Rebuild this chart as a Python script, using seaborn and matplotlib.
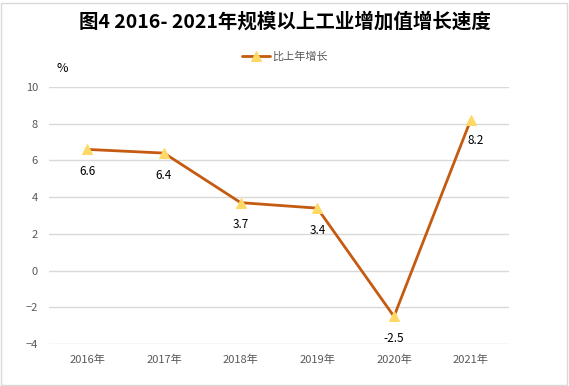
import seaborn as sns
import matplotlib.pyplot as plt
import pandas as pd
from matplotlib.patches import Rectangle

years = ["2016年", "2017年", "2018年", "2019年", "2020年", "2021年"]
growth = [6.6, 6.4, 3.7, 3.4, -2.5, 8.2]
yticks = [-4, -2, 0, 2, 4, 6, 8, 10]

sns.set_style("white")
plt.rcParams["font.family"] = ["Noto Sans CJK SC", "DejaVu Sans"]

line_color = "#C55A11"
marker_color = "#FFD966"
grey = "#595959"

df = pd.DataFrame({"year": years, "growth": growth})

fig = plt.figure(figsize=(5.69, 3.86), dpi=100)
ax = fig.add_axes([49 / 569, 1 - 344 / 386, 460 / 569, 257 / 386])

sns.lineplot(data=df, x="year", y="growth", ax=ax, color=line_color, lw=2,
             marker="^", markersize=7, markerfacecolor=marker_color,
             markeredgecolor=marker_color, label="比上年增长", sort=False)

ax.set_xlim(-0.5, len(years) - 0.5)
ax.set_ylim(-4, 10)
ax.set_yticks(yticks)
ax.grid(axis="y", color="#D9D9D9", lw=1)
ax.set_axisbelow(True)
for s in ax.spines.values():
    s.set_visible(False)
ax.tick_params(axis="both", length=0, labelsize=8, labelcolor=grey, pad=8)
ax.set_xlabel("")
ax.set_ylabel("")

# data labels
for i, v in enumerate(growth):
    if i == len(growth) - 1:
        ax.annotate(f"{v}", (i, v), xytext=(-2, -15), textcoords="offset points",
                    ha="left", va="center", fontsize=8.5, color="#000000")
    else:
        ax.annotate(f"{v}", (i, v), xytext=(0, -16), textcoords="offset points",
                    ha="center", va="center", fontsize=8.5, color="#000000")

leg = ax.legend(loc="center", bbox_to_anchor=(285 / 569, 1 - 57 / 386),
                bbox_transform=fig.transFigure, frameon=False, fontsize=8,
                handlelength=2.5, handletextpad=0.2)
for t in leg.get_texts():
    t.set_color(grey)

fig.text(62 / 569, 1 - 68 / 386, "%", ha="center", va="center", fontsize=9,
         color="#000000")
fig.text(0.5, 1 - 22 / 386, "图4 2016- 2021年规模以上工业增加值增长速度",
         ha="center", va="center", fontsize=14, fontweight="bold", color="#000000")

fig.patches.append(Rectangle((1 / 569, 1 / 386), 566 / 569, 382 / 386,
                             transform=fig.transFigure, fill=False,
                             edgecolor="#D9D9D9", lw=1))

fig.savefig("out.png", dpi=100)
